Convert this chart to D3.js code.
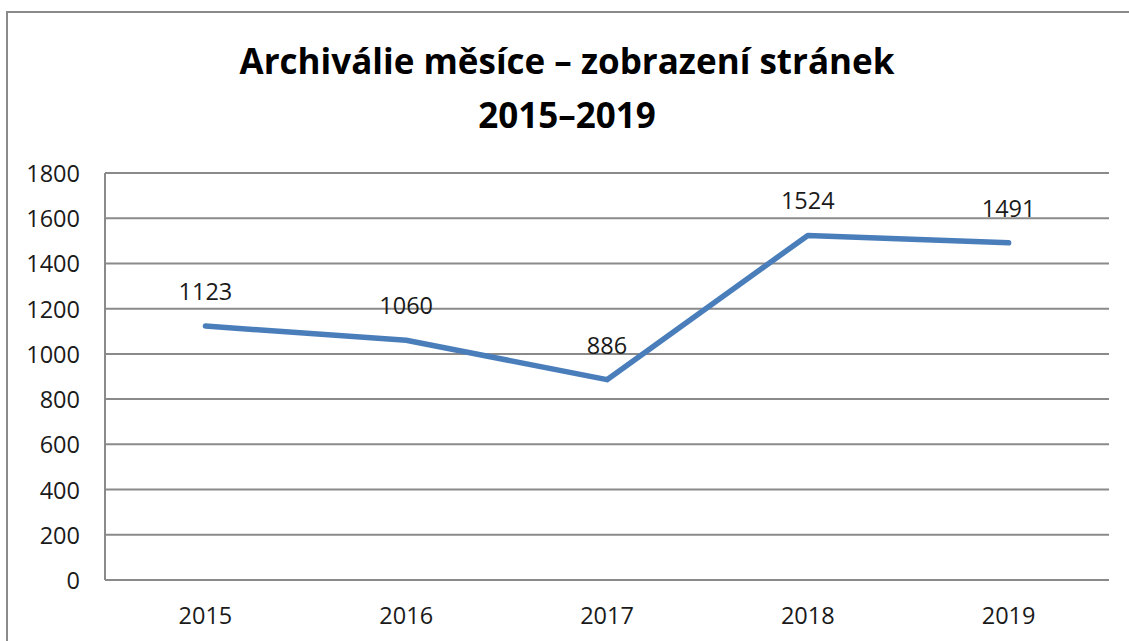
<!DOCTYPE html>
<html>
<head>
<meta charset="utf-8">
<script src="https://cdn.jsdelivr.net/npm/d3@7"></script>
<style>
    body { margin: 0; background: #fff; }
    text { font-family: "Open Sans", sans-serif; fill: #1a1a1a; }
</style>
</head>
<body>
<div id="main"></div>
<script>
var years = ["2015", "2016", "2017", "2018", "2019"];
var views = [1123, 1060, 886, 1524, 1491];
var yTicks = [0, 200, 400, 600, 800, 1000, 1200, 1400, 1600, 1800];
var titleLines = ["Archiválie měsíce – zobrazení stránek", "2015–2019"];

var ctx = {
    w: 1129,
    h: 641,
    left: 105,
    right: 1109,
    top: 173,
    bottom: 580,
};

var createViz = function () {
    var svg = d3.select("#main").append("svg")
        .attr("width", ctx.w)
        .attr("height", ctx.h);

    // outer chart border (right / bottom edges fall outside the picture)
    svg.append("rect")
        .attr("x", 7)
        .attr("y", 12)
        .attr("width", ctx.w + 20)
        .attr("height", ctx.h + 20)
        .attr("fill", "#fff")
        .attr("stroke", "#8a8a8a")
        .attr("stroke-width", 2);

    svg.append("g")
        .selectAll("text")
        .data(titleLines)
        .enter()
        .append("text")
        .attr("x", 567)
        .attr("y", function (d, i) { return 74 + i * 54; })
        .attr("text-anchor", "middle")
        .style("font-weight", "bold")
        .style("font-size", "35px")
        .style("fill", "#000")
        .text(function (d) { return d; });

    var x = d3.scaleBand().domain(years).range([ctx.left, ctx.right]);
    var y = d3.scaleLinear().domain([0, 1800]).range([ctx.bottom, ctx.top]);

    // gridlines
    svg.append("g")
        .selectAll("line")
        .data(yTicks)
        .enter()
        .append("line")
        .attr("x1", ctx.left)
        .attr("x2", ctx.right)
        .attr("y1", function (d) { return y(d); })
        .attr("y2", function (d) { return y(d); })
        .attr("stroke", "#8a8a8a")
        .attr("stroke-width", 2);

    svg.append("line")
        .attr("x1", ctx.left)
        .attr("x2", ctx.left)
        .attr("y1", ctx.top)
        .attr("y2", ctx.bottom)
        .attr("stroke", "#8a8a8a")
        .attr("stroke-width", 2);

    // y axis labels
    var yAxis = d3.axisLeft(y)
        .tickValues(yTicks)
        .tickFormat(d3.format("d"))
        .tickSize(0)
        .tickPadding(25);
    var gy = svg.append("g")
        .attr("transform", "translate(" + ctx.left + ",0)")
        .call(yAxis);
    gy.select(".domain").remove();
    gy.selectAll("text")
        .style("font-family", "'Open Sans', sans-serif")
        .style("font-size", "23.5px")
        .attr("fill", "#1a1a1a")
        .attr("dy", "0.36em");

    // x axis labels
    var xAxis = d3.axisBottom(x).tickSize(0).tickPadding(27);
    var gx = svg.append("g")
        .attr("transform", "translate(0," + ctx.bottom + ")")
        .call(xAxis);
    gx.select(".domain").remove();
    gx.selectAll("text")
        .style("font-family", "'Open Sans', sans-serif")
        .style("font-size", "23.5px")
        .attr("fill", "#1a1a1a");

    var cx = function (d, i) { return x(years[i]) + x.bandwidth() / 2; };

    var line = d3.line()
        .x(function (d, i) { return cx(d, i); })
        .y(function (d) { return y(d); });

    svg.append("path")
        .datum(views)
        .attr("d", line)
        .attr("fill", "none")
        .attr("stroke", "#4a7ebb")
        .attr("stroke-width", 5.5)
        .attr("stroke-linecap", "round")
        .attr("stroke-linejoin", "round");

    // data labels
    svg.append("g")
        .selectAll("text")
        .data(views)
        .enter()
        .append("text")
        .attr("x", cx)
        .attr("y", function (d) { return y(d) - 26; })
        .attr("text-anchor", "middle")
        .style("font-size", "23.5px")
        .text(function (d) { return d; });
};

createViz();
</script>
</body>
</html>
